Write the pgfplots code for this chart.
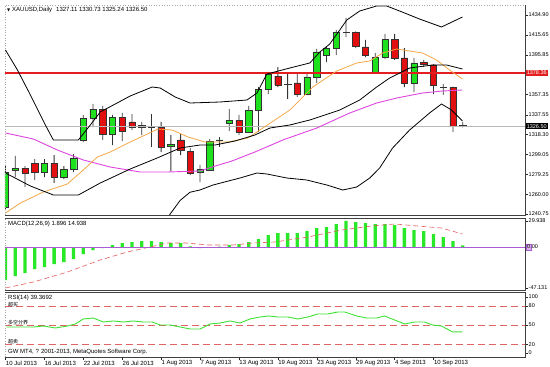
\documentclass[border=0pt]{standalone}
\usepackage{pgfplots}
\pgfplotsset{compat=1.18}
\usepackage{pgfplotstable}
\usepackage{fontspec}
\setmainfont{Liberation Sans}
\newfontfamily\cjk{Noto Sans CJK SC}
\newfontfamily\dejavu{DejaVu Sans}
\definecolor{bull}{RGB}{30,225,30}
\definecolor{bear}{RGB}{225,15,15}
\definecolor{hlred}{RGB}{228,30,30}
\definecolor{maorange}{RGB}{244,168,70}
\definecolor{mamag}{RGB}{222,70,222}
\definecolor{histg}{RGB}{40,232,40}
\definecolor{sigred}{RGB}{228,95,95}
\definecolor{zviolet}{RGB}{170,90,210}
\definecolor{rsig}{RGB}{60,225,50}
\definecolor{lvl}{RGB}{225,100,100}
\newcommand{\rlab}{\fontsize{5.5}{6}\selectfont}
\newcommand{\hlab}{\fontsize{6}{7}\selectfont}

\pgfplotstableread{
i O H L C
0 1247.58 1288.56 1244.65 1281.73
1 1283.68 1297.34 1276.85 1285.63
2 1285.63 1287.58 1267.09 1280.75
3 1290.51 1294.41 1273.92 1281.73
4 1281.73 1294.41 1276.85 1290.51
5 1290.51 1298.31 1271.00 1276.85
6 1276.85 1287.58 1274.90 1284.65
7 1284.65 1299.29 1281.73 1295.39
8 1312.95 1337.34 1310.99 1334.41
9 1334.41 1348.07 1325.63 1343.19
10 1343.19 1346.12 1312.95 1318.80
11 1318.80 1337.34 1308.07 1335.38
12 1335.38 1339.29 1311.97 1321.73
13 1330.51 1338.31 1322.70 1325.63
14 1325.63 1330.51 1317.82 1327.58
15 1325.80 1338.31 1306.12 1325.63
16 1325.63 1330.51 1301.24 1306.12
17 1307.09 1317.82 1282.70 1309.04
18 1312.95 1318.80 1298.31 1303.19
19 1302.21 1305.14 1278.80 1280.75
20 1281.73 1288.56 1271.97 1284.65
21 1283.68 1313.92 1283.00 1311.97
22 1312.80 1315.87 1306.12 1312.95
23 1329.53 1343.19 1321.73 1332.46
24 1332.46 1337.34 1317.82 1320.75
25 1320.75 1346.12 1319.78 1342.21
26 1342.21 1364.65 1320.75 1362.70
27 1362.70 1379.29 1357.82 1377.34
28 1375.38 1384.16 1364.65 1366.60
29 1367.58 1377.34 1352.95 1367.40
30 1368.56 1378.31 1354.90 1357.82
31 1357.82 1377.34 1356.85 1374.41
32 1374.41 1401.73 1368.56 1398.80
33 1395.87 1403.68 1389.04 1402.70
34 1402.70 1420.26 1395.87 1418.31
35 1418.31 1431.97 1413.43 1418.10
36 1418.31 1418.80 1402.70 1404.65
37 1403.68 1410.51 1393.92 1395.87
38 1379.29 1397.82 1378.31 1393.92
39 1393.92 1416.36 1391.97 1411.48
40 1411.48 1416.36 1391.00 1392.95
41 1392.95 1402.70 1364.65 1368.56
42 1368.56 1392.95 1359.77 1388.07
43 1389.04 1391.00 1384.16 1387.09
44 1386.12 1387.09 1357.82 1366.60
45 1364.65 1367.58 1356.85 1364.45
46 1364.65 1365.00 1320.75 1326.60
47 1327.11 1330.73 1325.24 1326.50
}\candles

\pgfplotstableread{
i v
0 -37.95
1 -33.35
2 -29.9
3 -25.3
4 -23.0
5 -19.55
6 -17.25
7 -13.8
8 -8.05
9 -3.45
10 -1.15
11 2.3
12 4.6
13 5.75
14 6.9
15 6.9
16 5.75
17 4.6
18 4.6
19 0.6
20 -1.15
21 -0.3
22 0.5
23 2.3
24 3.45
25 5.75
26 9.2
27 13.8
28 16.1
29 16.1
30 16.1
31 18.4
32 21.85
33 23.0
34 26.45
35 29.938
36 28.75
37 27.6
38 26.45
39 26.45
40 25.3
41 21.85
42 19.55
43 18.4
44 14.95
45 11.5
46 6.9
47 1.896
}\macd

\pgfplotsset{
  panel/.style={scale only axis, anchor=north west, width=520pt,
    xmin=-0.05, xmax=53.4, enlargelimits=false,
    axis line style={draw=none}, tick style={black!85, line width=0.4pt},
    major tick length=2.5pt, tick align=outside, clip mode=individual,
    tick label style={font=\rlab}, yticklabel style={anchor=west, inner xsep=1pt}},
  mainpos/.style={panel, at={(5pt,-5pt)}, height=210pt, ymin=1239.78, ymax=1444.65},
}

\begin{document}
\begin{tikzpicture}
\path[use as bounding box, fill=white] (0,0) rectangle (550pt,-367pt);

% wicks
\begin{axis}[mainpos, hide axis, ybar stacked, bar width=0.8pt]
\addplot[fill=none, draw=none] table[x=i, y=L] {\candles};
\addplot[fill=black!80, draw=none] table[x=i, y expr=\thisrow{H}-\thisrow{L}] {\candles};
\end{axis}

% bodies
\begin{axis}[mainpos, hide axis, ybar stacked, bar width=6.3pt]
\addplot[fill=none, draw=none] table[x=i, y expr={min(\thisrow{O},\thisrow{C})}] {\candles};
\addplot[fill=bull, draw=black!80, line width=0.45pt] table[x=i, y expr={max(\thisrow{C}-\thisrow{O},0)}] {\candles};
\addplot[fill=bear, draw=black!80, line width=0.45pt] table[x=i, y expr={max(\thisrow{O}-\thisrow{C},0)}] {\candles};
\end{axis}

% indicators and scale
\begin{axis}[mainpos, xtick=\empty, ytick pos=right, yticklabel pos=right,
  ytick={1240.75,1260.00,1279.25,1299.05,1318.30,1337.55,1357.35,1395.85,1415.65,1434.90},
  yticklabels={1240.75,1260.00,1279.25,1299.05,1318.30,1337.55,1357.35,1395.85,1415.65,1434.90}]
\addplot[gray!55, line width=0.4pt] coordinates {(-0.05,1326.50) (53.4,1326.50)};
\addplot[hlred, line width=1.1pt] coordinates {(-0.05,1378.36) (53.4,1378.36)};
\addplot[mamag, line width=0.9pt] coordinates {(0,1319.78) (2.87,1313.92) (5.33,1303.19) (8.0,1293.43) (10.77,1286.60) (13.85,1281.73) (16.62,1281.73) (20.0,1282.70) (21.23,1286.60) (23.28,1292.46) (25.64,1301.24) (28.51,1312.95) (32.0,1324.65) (35.38,1339.29) (38.15,1349.04) (40.21,1353.92) (42.87,1358.80) (44.92,1360.75) (46.97,1361.73)};
\addplot[maorange, line width=0.8pt] coordinates {(0,1241.73) (1.54,1251.48) (3.90,1262.21) (6.36,1270.02) (8.0,1283.68) (9.44,1296.36) (10.77,1301.24) (12.82,1310.99) (14.36,1317.82) (15.69,1323.68) (17.13,1322.70) (18.77,1315.87) (20.51,1310.99) (22.87,1310.99) (24.92,1314.90) (26.15,1322.70) (27.69,1332.46) (29.23,1342.21) (31.59,1364.65) (34.05,1380.26) (36.10,1388.07) (37.44,1390.02) (38.77,1397.82) (40.21,1401.73) (42.87,1397.82) (44.31,1390.99) (45.64,1381.24) (46.97,1372.46)};
\addplot[black, line width=0.8pt] coordinates {(0,1400.75) (1.23,1381.24) (2.56,1356.85) (4.10,1327.58) (4.92,1312.95) (7.49,1312.95) (8.72,1327.58) (9.74,1340.26) (12.82,1355.87) (15.08,1364.65) (15.90,1363.68) (17.44,1354.90) (18.97,1349.04) (22.05,1350.02) (24.82,1351.97) (25.85,1358.80) (26.87,1377.34) (29.23,1383.19) (31.28,1388.07) (32.31,1398.80) (33.33,1406.60) (34.36,1420.26) (35.08,1430.02) (36.41,1438.80) (38.15,1443.68) (39.18,1443.68) (40.51,1438.80) (42.56,1430.99) (44.82,1423.19) (46.97,1432.94)};
\addplot[black, line width=0.8pt] coordinates {(0,1280.75) (2.56,1268.07) (4.92,1259.29) (7.49,1259.29) (9.74,1271.00) (12.82,1284.65) (15.59,1295.39) (17.95,1305.14) (20.0,1308.07) (21.54,1308.07) (23.59,1311.97) (25.64,1317.82) (27.18,1324.65) (29.23,1327.58) (31.28,1332.46) (34.36,1342.21) (36.41,1351.97) (38.15,1364.65) (39.49,1373.43) (41.54,1383.19) (43.90,1386.12) (45.33,1386.12) (46.97,1382.21)};
\addplot[black, line width=0.8pt] coordinates {(12.82,1213.4) (15.08,1221.0) (16.72,1238.0) (17.95,1254.0) (18.97,1262.0) (20.0,1264.2) (21.33,1269.04) (24.10,1275.87) (25.85,1280.75) (26.87,1279.78) (28.92,1275.87) (30.97,1273.92) (33.03,1269.04) (34.67,1264.17) (36.10,1267.09) (37.44,1275.87) (38.46,1285.63) (39.79,1305.14) (41.54,1322.70) (43.59,1339.29) (44.82,1348.07) (45.85,1342.21) (46.97,1331.48)};
\node[anchor=west, fill=hlred, text=white, font=\rlab, inner xsep=1pt, inner ysep=1.2pt, xshift=0.6pt] at (axis cs:53.4,1378.36) {1378.36};
\node[anchor=west, fill=black, text=white, font=\rlab, inner xsep=1pt, inner ysep=1.2pt, xshift=0.6pt] at (axis cs:53.4,1326.50) {1326.50};
\draw[gray!70, dotted, line width=0.6pt] (rel axis cs:0,0) -- (rel axis cs:0,1) -- (rel axis cs:1,1);
\draw[black!75, line width=0.5pt] (rel axis cs:0,0) -- (rel axis cs:1,0) -- (rel axis cs:1,1);
\end{axis}

% MACD
\begin{axis}[panel, at={(5pt,-218pt)}, height=72pt, ymin=-49.45, ymax=33.35,
  xtick=\empty, ytick pos=right, yticklabel pos=right,
  ytick={-47.131,0,29.938}, yticklabels={-47.131,{},29.938}]
\addplot[ybar, bar width=3.3pt, bar shift=0pt, fill=histg, draw=none] table[x=i, y=v] {\macd};
\addplot[sigred, line width=0.6pt, dash pattern=on 5pt off 3pt] coordinates {(0,-47.131) (2.87,-40.25) (6.36,-28.75) (9.74,-14.95) (12.51,-5.75) (14.87,0) (16.62,4.6) (18.67,4.6) (20.72,2.3) (23.38,2.3) (25.44,4.6) (27.69,5.75) (31.08,11.5) (34.56,19.55) (37.64,24.15) (40.0,26.45) (42.36,24.15) (44.82,21.85) (46.97,14.938)};
\addplot[zviolet, line width=0.8pt] coordinates {(-0.05,0) (53.4,0)};
\node[anchor=west, fill=zviolet!45, draw=zviolet, minimum width=5pt, minimum height=6pt, inner sep=0pt, xshift=0.5pt] at (axis cs:53.4,0) {};
\node[anchor=west, font=\rlab, inner xsep=1pt, xshift=1pt] at (axis cs:53.4,0) {0.00};
\draw[gray!70, dotted, line width=0.6pt] (rel axis cs:0,0) -- (rel axis cs:0,1);
\draw[black!75, line width=0.5pt] (rel axis cs:0,1) -- (rel axis cs:1,1);
\draw[black!75, line width=0.5pt] (rel axis cs:0,0) -- (rel axis cs:1,0) -- (rel axis cs:1,1);
\end{axis}

% RSI
\begin{axis}[panel, at={(5pt,-292pt)}, height=65pt, ymin=0, ymax=101.56,
  ytick pos=right, yticklabel pos=right,
  ytick={6.25,20,50,80,93.75}, yticklabels={0,20,50,80,100},
  xtick pos=bottom, xtick={0,4,8,12,16,20,24,28,32,36,40,44},
  xticklabels={10 Jul 2013,16 Jul 2013,22 Jul 2013,26 Jul 2013,1 Aug 2013,7 Aug 2013,13 Aug 2013,19 Aug 2013,23 Aug 2013,29 Aug 2013,4 Sep 2013,10 Sep 2013},
  xticklabel style={font=\hlab, anchor=north west, inner xsep=0.3pt, inner ysep=1pt}]
\addplot[lvl, line width=0.6pt, dash pattern=on 7pt off 4pt] coordinates {(-0.05,80) (53.4,80)};
\addplot[lvl, line width=0.6pt, dash pattern=on 7pt off 4pt] coordinates {(-0.05,50) (53.4,50)};
\addplot[lvl, line width=0.6pt, dash pattern=on 7pt off 4pt] coordinates {(-0.05,20) (53.4,20)};
\addplot[rsig, line width=0.9pt] coordinates {(0.1,46.9) (2.87,46.9) (3.9,48.4) (5.13,45.3) (6.36,48.4) (7.18,51.6) (8.0,59.4) (9.03,60.9) (10.05,54.7) (11.08,56.3) (12.1,54.7) (13.13,56.3) (14.15,54.7) (15.08,54.7) (15.9,50.0) (16.92,50.0) (17.95,46.9) (18.97,43.75) (20.0,43.75) (21.03,51.6) (22.05,53.1) (23.08,56.3) (24.1,53.1) (25.13,59.4) (26.15,62.5) (27.08,64.1) (28.0,62.5) (29.03,62.5) (30.05,59.4) (31.08,62.5) (32.1,67.2) (33.13,67.2) (34.15,70.3) (34.87,70.3) (36.1,64.1) (37.13,60.9) (38.15,60.9) (38.97,64.1) (40.0,57.8) (41.03,51.6) (42.05,54.7) (43.08,54.7) (43.9,50.0) (44.82,48.4) (45.95,39.1) (46.97,39.37)};
\draw[gray!70, dotted, line width=0.6pt] (rel axis cs:0,0) -- (rel axis cs:0,1);
\draw[black!75, line width=0.5pt] (rel axis cs:0,1) -- (rel axis cs:1,1);
\draw[black!75, line width=0.5pt] (rel axis cs:0,0) -- (rel axis cs:1,0) -- (rel axis cs:1,1);
\end{axis}

% texts
\node[anchor=west, inner sep=0pt, font=\dejavu\fontsize{4}{5}\selectfont] at (7pt,-10pt) {▼};
\node[anchor=west, inner sep=0pt, font=\hlab] at (12pt,-10pt) {XAUUSD,Daily\hspace{4pt}1327.11 1330.73 1325.24 1326.50};
\node[anchor=west, inner sep=0pt, font=\hlab] at (8pt,-223.5pt) {MACD(12,26,9) 1.896 14.938};
\node[anchor=west, inner sep=0pt, font=\hlab] at (8pt,-298pt) {RSI(14) 39.3692};
\node[anchor=west, inner sep=0pt, font=\cjk\fontsize{5}{6}\selectfont] at (8pt,-304.5pt) {超买};
\node[anchor=west, inner sep=0pt, font=\cjk\fontsize{5}{6}\selectfont] at (8pt,-322.5pt) {多空分界};
\node[anchor=west, inner sep=0pt, font=\cjk\fontsize{5}{6}\selectfont] at (8pt,-341.5pt) {超卖};
\node[anchor=west, inner sep=0pt, font=\hlab] at (8pt,-352pt) {GW MT4, ? 2001-2013, MetaQuotes Software Corp.};
\end{tikzpicture}
\end{document}
